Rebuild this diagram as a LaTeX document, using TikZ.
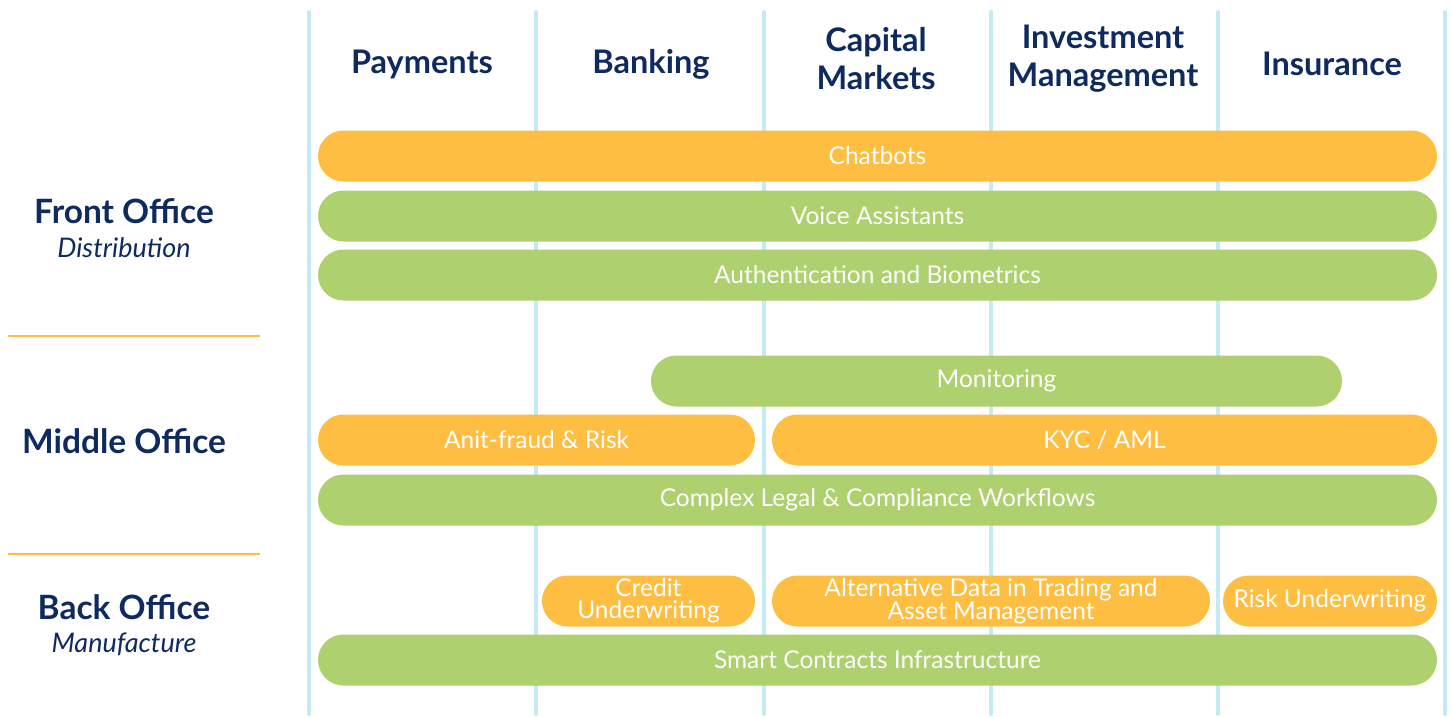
\documentclass[tikz,border=0pt]{standalone}
\usepackage{fontspec}
\setmainfont{Lato}
\usepackage{xcolor}
\definecolor{navy}{HTML}{0F2A5F}
\definecolor{gold}{HTML}{FDBE42}
\definecolor{leaf}{HTML}{AED06E}
\definecolor{rail}{HTML}{C5E9F5}
\definecolor{rule}{HTML}{FDBE42}

\begin{document}
\begin{tikzpicture}[x=1pt,y=-1pt,
	pill/.style={rounded corners=25.5pt, minimum height=51pt, inner sep=0pt,
		text=white, align=center, font=\fontsize{24.5}{22}\selectfont},
	head/.style={text=navy, align=center, font=\fontsize{32.5}{38}\selectfont\bfseries},
	side/.style={text=navy, align=center, font=\fontsize{33.5}{38}\selectfont\bfseries},
	sub/.style={text=navy, font=\fontsize{27}{30}\selectfont\itshape}]
\useasboundingbox (0,0) rectangle (1452,717);

% column rails
\foreach \x in {309,536,764,991,1218,1445}
{
	\draw[rail, line width=4pt, line cap=round] (\x,12) -- (\x,714);
}

% column headers
\node[head] (pay) at (422,64) {Payments};
\node[head] (bank) at (651,64) {Banking};
\node[head] (cap) at (876,59) {Capital\\Markets};
\node[head] (inv) at (1103,59) {Investment\\Management};
\node[head] (ins) at (1332,64) {Insurance};

% office labels
\node[side] (front) at (124,211) {Front Office};
\node[sub] (dist) at (124,248) {Distribution};
\node[side] (middle) at (124,441) {Middle Office};
\node[side] (back) at (124,607) {Back Office};
\node[sub] (manu) at (124,644) {Manufacture};
\draw[rule, line width=1.2pt] (8,336) -- (260,336);
\draw[rule, line width=1.2pt] (8,554) -- (260,554);

% front office
\node[pill, fill=gold, minimum width=1119pt] (chat) at (877.5,156) {Chatbots};
\node[pill, fill=leaf, minimum width=1119pt] (voice) at (877.5,216) {Voice Assistants};
\node[pill, fill=leaf, minimum width=1119pt] (auth) at (877.5,275) {Authentication and Biometrics};

% middle office
\node[pill, fill=leaf, minimum width=691pt] (mon) at (996.5,381) {Monitoring};
\node[pill, fill=gold, minimum width=437pt] (fraud) at (536.5,440) {Anit-fraud \& Risk};
\node[pill, fill=gold, minimum width=665pt] (kyc) at (1104.5,440) {KYC / AML};
\node[pill, fill=leaf, minimum width=1119pt] (legal) at (877.5,500) {Complex Legal \& Compliance Workflows};

% back office
\node[pill, fill=gold, minimum width=213pt] (credit) at (648.5,601) {Credit\\Underwriting};
\node[pill, fill=gold, minimum width=438pt] (alt) at (991,601) {Alternative Data in Trading and\\Asset Management};
\node[pill, fill=gold, minimum width=214pt] (risk) at (1330,601) {Risk Underwriting};
\node[pill, fill=leaf, minimum width=1119pt] (smart) at (877.5,660) {Smart Contracts Infrastructure};
\end{tikzpicture}
\end{document}
